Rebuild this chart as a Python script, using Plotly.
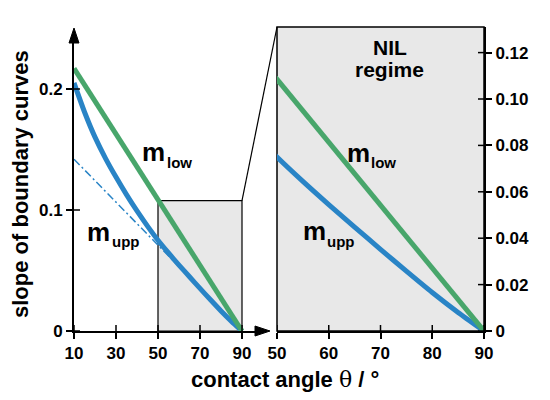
import plotly.graph_objects as go

# ---------------- data ----------------
theta = [10, 15, 20, 25, 30, 35, 40, 45, 50, 55, 60, 65, 70, 75, 80, 85, 90]
m_upp = [0.205, 0.181, 0.1602, 0.1427, 0.1272, 0.1127, 0.0992, 0.0867, 0.075,
         0.0645, 0.0545, 0.0448, 0.0352, 0.0258, 0.0166, 0.008, 0.0]
theta_low = [10, 90]
m_low = [0.217, 0.0]
theta_tan = [10, 90]
m_tan = [0.142, 0.0]

inset_x = [50, 90]
inset_y = [0, 0.1077]

left_xticks = [10, 30, 50, 70, 90]
left_yticks = [0, 0.1, 0.2]
left_yticktext = ["0", "0.1", "0.2"]
right_xticks = [50, 60, 70, 80, 90]
right_yticks = [0, 0.02, 0.04, 0.06, 0.08, 0.10, 0.12]
right_yticktext = ["0", "0.02", "0.04", "0.06", "0.08", "0.10", "0.12"]

# ---------------- style / layout ----------------
# the page body adds an 8px offset; work in window pixels and convert
OX, OY = 8, 8
W, H = 542, 392
GREEN = "#48a66b"
BLUE = "#2984c6"
GRAY = "#e8e8e8"
FONT = "Liberation Sans, Arial, sans-serif"


def fx(px):
    return (px - OX) / W


def fy(py):
    return 1 - (py - OY) / H


XL_DOM = [fx(74), fx(262)]
YL_DOM = [fy(331), fy(36)]
XL_RANGE = [10, 10 + (262 - 74) / 2.1]
YL_RANGE = [0, 295 / 1210]

XR_DOM = [fx(277), fx(484)]
YR_DOM = [fy(331), fy(27)]
XR_RANGE = [50, 90]
YR_RANGE = [0, 304 / 2320]


def to_paper(x, y, xdom, xr, ydom, yr):
    px = xdom[0] + (x - xr[0]) / (xr[1] - xr[0]) * (xdom[1] - xdom[0])
    py = ydom[0] + (y - yr[0]) / (yr[1] - yr[0]) * (ydom[1] - ydom[0])
    return px, py


fig = go.Figure()

# left panel
fig.add_trace(go.Scatter(x=theta_tan, y=m_tan, mode="lines", xaxis="x", yaxis="y",
                         line=dict(color=BLUE, width=1.5, dash="8px,3px,2px,3px")))
fig.add_trace(go.Scatter(x=theta, y=m_upp, mode="lines", xaxis="x", yaxis="y",
                         line=dict(color=BLUE, width=5, shape="spline", smoothing=0.6)))
fig.add_trace(go.Scatter(x=theta_low, y=m_low, mode="lines", xaxis="x", yaxis="y",
                         line=dict(color=GREEN, width=5)))

# right panel
fig.add_trace(go.Scatter(x=theta, y=m_upp, mode="lines", xaxis="x2", yaxis="y2",
                         line=dict(color=BLUE, width=5, shape="spline", smoothing=0.6)))
fig.add_trace(go.Scatter(x=theta_low, y=m_low, mode="lines", xaxis="x2", yaxis="y2",
                         line=dict(color=GREEN, width=5)))

tickfont = dict(family=FONT, size=17, color="black", weight="bold")
common = dict(showgrid=False, zeroline=False, showline=True, linecolor="black",
              linewidth=2, ticks="outside", ticklen=6, tickwidth=1.5,
              tickcolor="black", tickfont=tickfont, automargin=False)

fig.update_layout(
    width=W, height=H, margin=dict(l=0, r=0, t=0, b=0, autoexpand=False),
    paper_bgcolor="white", plot_bgcolor="rgba(0,0,0,0)", showlegend=False,
    xaxis=dict(domain=XL_DOM, range=XL_RANGE, anchor="y", tickvals=left_xticks, **common),
    yaxis=dict(domain=YL_DOM, range=YL_RANGE, anchor="x", tickvals=left_yticks,
               ticktext=left_yticktext, **common),
    xaxis2=dict(domain=XR_DOM, range=XR_RANGE, anchor="y2", tickvals=right_xticks, **common),
    yaxis2=dict(domain=YR_DOM, range=YR_RANGE, anchor="x2", side="right",
                tickvals=right_yticks, ticktext=right_yticktext, **common),
)

shapes = []
# inset rectangle in left panel
shapes.append(dict(type="rect", xref="x", yref="y", x0=inset_x[0], x1=inset_x[1],
                   y0=inset_y[0], y1=inset_y[1], fillcolor=GRAY,
                   line=dict(color="black", width=1.2), layer="below"))
# right panel background box
shapes.append(dict(type="rect", xref="paper", yref="paper", x0=XR_DOM[0], x1=XR_DOM[1],
                   y0=YR_DOM[0], y1=YR_DOM[1], fillcolor=GRAY,
                   line=dict(color="black", width=1.5), layer="below"))
# connecting line
p0 = to_paper(inset_x[1], inset_y[1], XL_DOM, XL_RANGE, YL_DOM, YL_RANGE)
shapes.append(dict(type="line", xref="paper", yref="paper", x0=p0[0], y0=p0[1],
                   x1=XR_DOM[0], y1=YR_DOM[1], line=dict(color="black", width=1.2)))
# arrow heads
ax_y = YL_DOM[0]
shapes.append(dict(type="path", xref="paper", yref="paper",
                   path=f"M {fx(255)} {ax_y + 5/H} L {fx(270)} {ax_y} L {fx(255)} {ax_y - 5/H} Z",
                   fillcolor="black", line=dict(color="black", width=1)))
ax_x = XL_DOM[0]
shapes.append(dict(type="path", xref="paper", yref="paper",
                   path=f"M {ax_x - 5/W} {fy(43)} L {ax_x} {fy(28)} L {ax_x + 5/W} {fy(43)} Z",
                   fillcolor="black", line=dict(color="black", width=1)))
# inside halves of the crossing tick marks
for v in left_xticks:
    shapes.append(dict(type="line", xref="x", yref="paper", x0=v, x1=v,
                       y0=YL_DOM[0], y1=YL_DOM[0] + 6 / H, line=dict(color="black", width=1.5)))
for v in left_yticks:
    shapes.append(dict(type="line", xref="paper", yref="y", y0=v, y1=v,
                       x0=XL_DOM[0], x1=XL_DOM[0] + 6 / W, line=dict(color="black", width=1.5)))
for v in right_xticks:
    shapes.append(dict(type="line", xref="x2", yref="paper", x0=v, x1=v,
                       y0=YR_DOM[0], y1=YR_DOM[0] + 6 / H, line=dict(color="black", width=1.5)))
for v in right_yticks:
    shapes.append(dict(type="line", xref="paper", yref="y2", y0=v, y1=v,
                       x0=XR_DOM[1] - 6 / W, x1=XR_DOM[1], line=dict(color="black", width=1.5)))
fig.update_layout(shapes=shapes)


def label(x, y, text, size, xref, yref, xanchor="left"):
    fig.add_annotation(x=x, y=y, xref=xref, yref=yref, text=text, showarrow=False,
                       xanchor=xanchor, yanchor="middle", borderpad=0, borderwidth=0,
                       font=dict(family=FONT, size=size, color="black", weight="bold"))


# curve labels, left
label(42.4, 0.1479, "m", 26, "x", "y")
label(54.3, 0.1390, "low", 15, "x", "y")
label(16.2, 0.0818, "m", 26, "x", "y")
label(28.3, 0.0737, "upp", 15, "x", "y")
# curve labels, right
label(63.5, 0.0767, "m", 26, "x2", "y2")
label(68.2, 0.0725, "low", 15, "x2", "y2")
label(55.0, 0.0431, "m", 26, "x2", "y2")
label(59.7, 0.0384, "upp", 15, "x2", "y2")
label(71.8, 0.1221, "NIL", 21, "x2", "y2", "center")
label(71.8, 0.1128, "regime", 21, "x2", "y2", "center")

# axis titles
fig.add_annotation(x=fx(20), y=fy(184), xref="paper", yref="paper",
                   text="slope of boundary curves", textangle=-90, showarrow=False,
                   xanchor="center", yanchor="middle",
                   font=dict(family=FONT, size=22, color="black", weight="bold"))
fig.add_annotation(x=fx(285), y=fy(379), xref="paper", yref="paper",
                   text="contact angle <span style=\"font-family:'DejaVu Serif';font-weight:normal\">θ</span> / °",
                   showarrow=False, xanchor="center", yanchor="middle",
                   font=dict(family=FONT, size=22, color="black", weight="bold"))

fig.write_html("out.html")
